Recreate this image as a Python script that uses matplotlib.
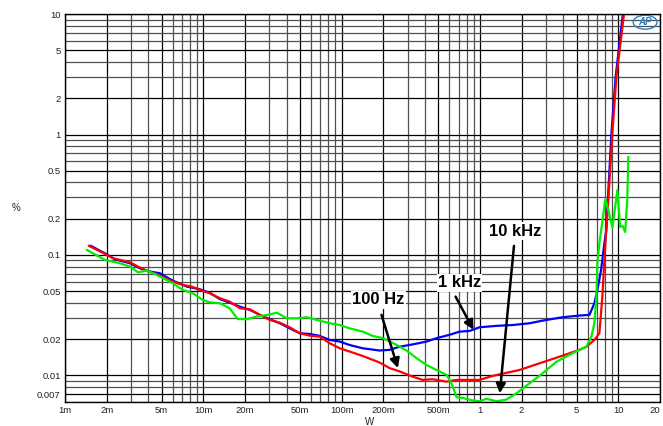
import matplotlib
matplotlib.use('Agg')
import matplotlib.pyplot as plt
from matplotlib.ticker import FixedLocator, NullFormatter
from matplotlib.patches import Ellipse

plt.rcParams['font.family'] = ['Liberation Sans', 'DejaVu Sans']

# THD+N (%) vs output power (W)
red_w = [1.49e-3, 1.95e-3, 2.22e-3, 2.95e-3, 3.37e-3, 3.91e-3, 4.62e-3, 6.02e-3, 7.11e-3,
         8.26e-3, 9.44e-3, 11.1e-3, 13.2e-3, 15.5e-3, 18.4e-3, 21.7e-3, 25.6e-3, 30.2e-3,
         35.7e-3, 42.1e-3, 49.7e-3, 58.7e-3, 69.4e-3, 81.9e-3, 96.8e-3, 0.114, 0.142, 0.188,
         0.222, 0.262, 0.326, 0.385, 0.454, 0.573, 0.677, 0.840, 0.992, 1.23, 1.55, 1.93,
         2.69, 3.75, 5.23, 5.87, 6.71, 7.29, 7.66, 7.92, 8.18, 8.46, 9.05, 9.68, 11.0]
red_pct = [0.119, 0.102, 0.0939, 0.0870, 0.0800, 0.0741, 0.0691, 0.0600, 0.0564,
           0.0546, 0.0512, 0.0481, 0.0437, 0.0410, 0.0361, 0.0354, 0.0318, 0.0289,
           0.0274, 0.0251, 0.0224, 0.0214, 0.0210, 0.0185, 0.0168, 0.0158, 0.0145, 0.0128,
           0.0115, 0.0108, 0.00977, 0.00918, 0.00930, 0.00888, 0.00918, 0.00918, 0.00918,
           0.0099, 0.0105, 0.0111, 0.0126, 0.0143, 0.0163, 0.0173, 0.0197, 0.0224, 0.045,
           0.09, 0.161, 0.286, 1.03, 3.0, 10.2]

blue_w = [1.54e-3, 1.95e-3, 2.30e-3, 2.95e-3, 3.48e-3, 3.91e-3, 4.85e-3, 6.02e-3, 7.60e-3,
          9.44e-3, 11.1e-3, 13.2e-3, 15.5e-3, 18.4e-3, 21.7e-3, 25.6e-3, 30.2e-3, 35.7e-3,
          42.1e-3, 49.7e-3, 58.7e-3, 69.4e-3, 81.9e-3, 96.8e-3, 0.114, 0.142, 0.188, 0.222,
          0.262, 0.326, 0.411, 0.485, 0.60, 0.711, 0.840, 0.992, 1.32, 1.72, 2.28, 2.83,
          3.94, 5.23, 6.18, 6.71, 7.05, 7.5, 7.92, 8.18, 8.4, 8.9, 9.55, 10.8]
blue_pct = [0.119, 0.103, 0.0921, 0.0853, 0.0775, 0.0736, 0.0705, 0.0612, 0.0546,
            0.0519, 0.0486, 0.0429, 0.0402, 0.0372, 0.0350, 0.0318, 0.0293, 0.0271,
            0.0246, 0.0224, 0.0221, 0.0213, 0.0197, 0.0191, 0.0179, 0.0168, 0.0161, 0.0163,
            0.0173, 0.0181, 0.0191, 0.0204, 0.0217, 0.0231, 0.0234, 0.0251, 0.0258, 0.0262,
            0.0271, 0.0285, 0.0304, 0.0314, 0.0318, 0.0397, 0.0512, 0.0751, 0.125, 0.161,
            0.29, 1.0, 3.0, 10.2]

green_w = [1.44e-3, 1.95e-3, 2.50e-3, 2.95e-3, 3.37e-3, 3.91e-3, 4.62e-3, 6.02e-3, 7.11e-3,
           8.40e-3, 9.92e-3, 11.1e-3, 13.2e-3, 15.5e-3, 17.7e-3, 20.6e-3, 24.3e-3, 29.2e-3,
           34.0e-3, 40.1e-3, 47.3e-3, 55.9e-3, 69.4e-3, 81.9e-3, 96.8e-3, 0.114, 0.142,
           0.167, 0.198, 0.250, 0.294, 0.348, 0.411, 0.485, 0.573, 0.622, 0.677, 0.748,
           0.883, 0.992, 1.11, 1.32, 1.55, 1.83, 2.28, 2.83, 3.57, 4.43, 5.23, 5.87, 6.38,
           6.71, 6.94, 7.05, 7.29, 8.05, 8.46, 9.05, 9.84, 10.3, 10.7, 11.2, 11.6, 11.8]
green_pct = [0.110, 0.0909, 0.0853, 0.0800, 0.0718, 0.0741, 0.0682, 0.0582, 0.0512,
             0.0481, 0.0423, 0.0405, 0.0397, 0.0361, 0.0294, 0.0293, 0.0308, 0.0318,
             0.0332, 0.0298, 0.0298, 0.0304, 0.0285, 0.0271, 0.0262, 0.0246, 0.0231,
             0.0213, 0.0204, 0.0179, 0.0161, 0.0139, 0.0122, 0.0111, 0.0101, 0.0086, 0.0066,
             0.0065, 0.0062, 0.0061, 0.0064, 0.0061, 0.0063, 0.0071, 0.0086, 0.0104, 0.0130,
             0.0148, 0.0163, 0.0173, 0.0210, 0.0271, 0.0451, 0.0853, 0.125, 0.29, 0.236,
             0.168, 0.346, 0.171, 0.175, 0.155, 0.29, 0.65]

x_ticks = [1e-3, 2e-3, 5e-3, 1e-2, 2e-2, 5e-2, 0.1, 0.2, 0.5, 1, 2, 5, 10, 20]
x_labels = ['1m', '2m', '5m', '10m', '20m', '50m', '100m', '200m', '500m',
            '1', '2', '5', '10', '20']
y_ticks = [0.007, 0.01, 0.02, 0.05, 0.1, 0.2, 0.5, 1, 2, 5, 10]
y_labels = ['0.007', '0.01', '0.02', '0.05', '0.1', '0.2', '0.5', '1', '2', '5', '10']

fig = plt.figure(figsize=(6.63, 4.26), dpi=100)
ax = fig.add_axes([0.098, 0.056, 0.8975, 0.911])
ax.set_xscale('log')
ax.set_yscale('log')
ax.set_xlim(1e-3, 20)
ax.set_ylim(0.006, 10)

# dense log grid, every 1..9 in each decade
minor_x = [m * 10.0 ** e for e in range(-3, 2) for m in range(1, 10)]
minor_y = [m * 10.0 ** e for e in range(-3, 1) for m in range(1, 10)]
ax.xaxis.set_major_locator(FixedLocator(x_ticks))
ax.xaxis.set_minor_locator(FixedLocator(minor_x))
ax.yaxis.set_major_locator(FixedLocator(y_ticks))
ax.yaxis.set_minor_locator(FixedLocator(minor_y))
ax.xaxis.set_minor_formatter(NullFormatter())
ax.yaxis.set_minor_formatter(NullFormatter())
ax.set_xticklabels(x_labels)
ax.set_yticklabels(y_labels)
ax.grid(which='minor', color='#505050', lw=0.9)
ax.grid(which='major', color='black', lw=0.9)
ax.tick_params(which='both', length=0, labelsize=6.8, colors='#222222', pad=3)
ax.set_axisbelow(True)
# last x label sits inside the figure
ax.get_xticklabels()[-1].set_horizontalalignment('right')
for s in ax.spines.values():
    s.set_linewidth(1.0)
    s.set_color('black')

ax.plot(blue_w, blue_pct, color='#0000ff', lw=1.6)
ax.plot(red_w, red_pct, color='#ff0000', lw=1.6)
ax.plot(green_w, green_pct, color='#00ee00', lw=1.6)

# labels with arrows
box = dict(facecolor='white', edgecolor='none', pad=1.0)
ax.text(0.185, 0.0423, '100 Hz', fontsize=12, fontweight='bold', ha='center', va='center', bbox=box)
ax.text(0.711, 0.0586, '1 kHz', fontsize=12, fontweight='bold', ha='center', va='center', bbox=box)
ax.text(1.79, 0.158, '10 kHz', fontsize=12, fontweight='bold', ha='center', va='center', bbox=box)
arr = dict(arrowstyle='-|>', color='black', lw=1.8, mutation_scale=14, shrinkA=0, shrinkB=0)
ax.annotate('', xy=(0.255, 0.0115), xytext=(0.194, 0.0318), arrowprops=arr)
ax.annotate('', xy=(0.897, 0.0239), xytext=(0.666, 0.0451), arrowprops=arr)
ax.annotate('', xy=(1.39, 0.00711), xytext=(1.76, 0.119), arrowprops=arr)

# AP logo
ax.add_patch(Ellipse((0.975, 0.979), 0.04, 0.036, transform=ax.transAxes,
                     facecolor='none', edgecolor='#2a7fc1', lw=1.0, clip_on=False))
ax.text(0.975, 0.979, 'AP', transform=ax.transAxes, color='#2a7fc1', fontsize=7,
        fontstyle='italic', fontweight='bold', ha='center', va='center')

fig.text(0.024, 0.512, '%', fontsize=7, ha='center', va='center', color='#222222')
fig.text(0.558, 0.01, 'W', fontsize=7, ha='center', va='center', color='#222222')

plt.savefig('out.png', dpi=100)
